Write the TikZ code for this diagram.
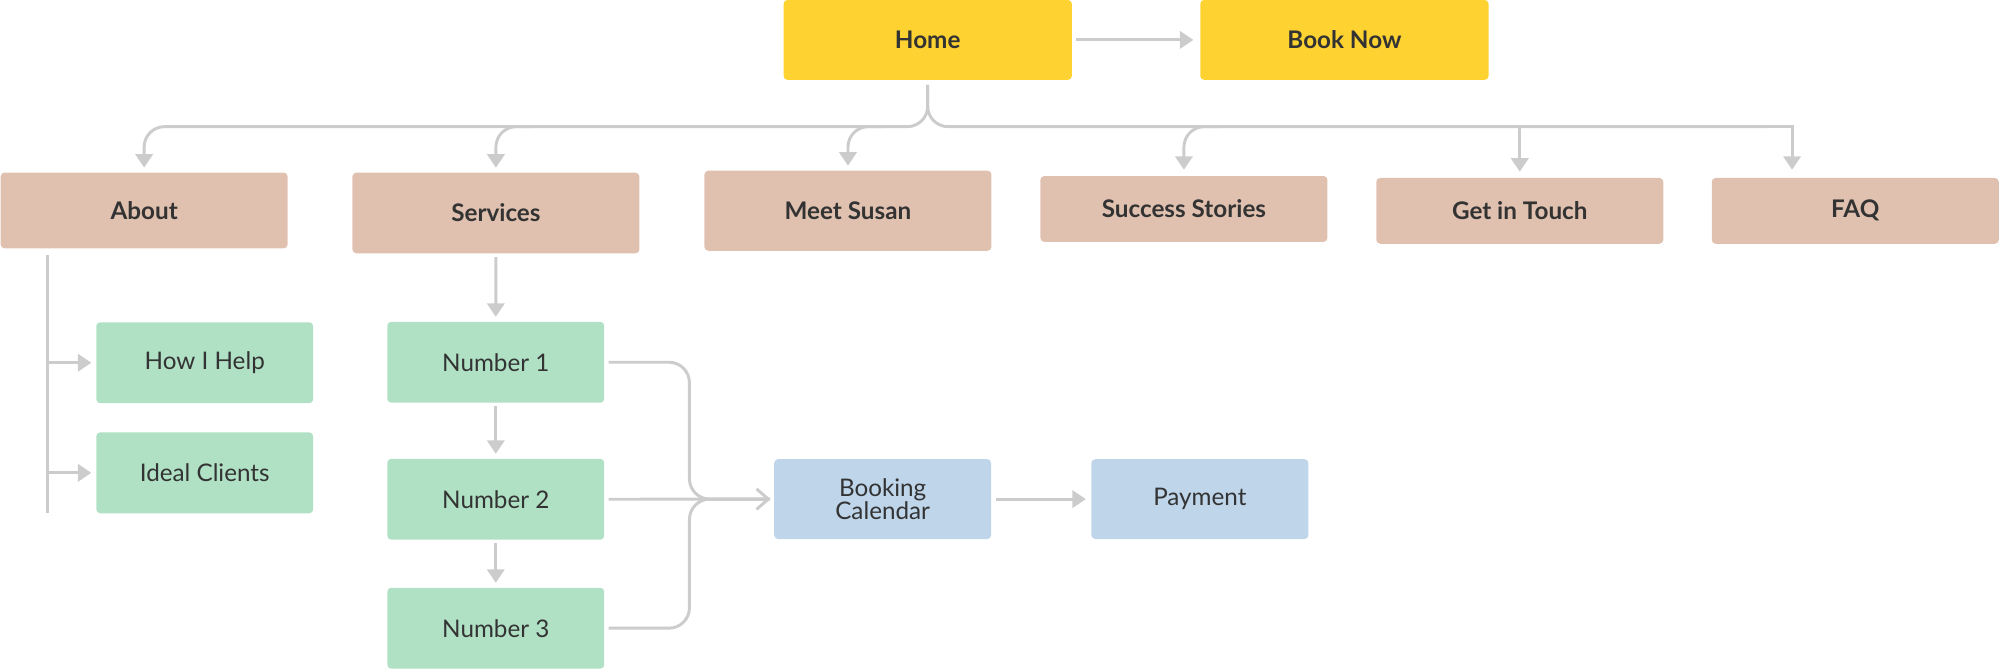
\documentclass[tikz,border=0pt]{standalone}
\usepackage{fontspec}
\setmainfont{Lato}
\usetikzlibrary{arrows.meta,calc}
\definecolor{cyel}{HTML}{FDD231}
\definecolor{ctan}{HTML}{E0C1AF}
\definecolor{cgreen}{HTML}{B0E1C5}
\definecolor{cblue}{HTML}{BED5EA}
\definecolor{cline}{HTML}{CCCCCC}
\definecolor{ctext}{HTML}{333333}
\begin{document}
\begin{tikzpicture}[x=0.5pt,y={(0pt,-0.5pt)},
  box/.style={rectangle, rounded corners=1.5pt, inner sep=0pt, text=ctext, align=center,
    font=\fontsize{9.5}{9.2}\selectfont},
  ybox/.style={box, fill=cyel, minimum width=113pt, minimum height=31.3pt,
    font=\bfseries\fontsize{9.5}{9.2}\selectfont},
  tbox/.style={box, fill=ctan, minimum width=112.5pt,
    font=\bfseries\fontsize{9.5}{9.2}\selectfont},
  gbox/.style={box, fill=cgreen, minimum width=85pt, minimum height=31.7pt},
  bbox/.style={box, fill=cblue, minimum width=85pt, minimum height=31.3pt},
  conn/.style={draw=cline, line width=1.15pt},
  arr/.style={conn, -{Triangle[width=6.8pt,length=5.3pt]}},
  barb/.style={conn, -{Straight Barb[width=8pt,length=4.6pt,line width=1.15pt]}},
]
\useasboundingbox (0,0) rectangle (1568,524.5);

% top
\node[ybox] (home) at (727.3,31.3) {Home};
\node[ybox] (book) at (1054,31.3) {Book Now};

% second level
\node[tbox, minimum height=29.7pt] (about) at (113,165) {About};
\node[tbox, minimum height=31.6pt] (services) at (388.8,167) {Services};
\node[tbox, minimum height=31.4pt] (meet) at (664.8,165.2) {Meet Susan};
\node[tbox, minimum height=25.8pt] (success) at (928.2,163.8) {Success Stories};
\node[tbox, minimum height=25.8pt] (touch) at (1191.5,165.3) {Get in Touch};
\node[tbox, minimum height=25.8pt] (faq) at (1454.5,165.3) {FAQ};

% third level
\node[gbox] (howi) at (160.5,284.4) {How I Help};
\node[gbox] (ideal) at (160.5,370.7) {Ideal Clients};
\node[gbox] (n1) at (388.7,284) {Number 1};
\node[gbox] (n2) at (388.7,391.4) {Number 2};
\node[gbox] (n3) at (388.7,492.5) {Number 3};
\node[bbox] (cal) at (692,391.3) {Booking\\Calendar};
\node[bbox] (pay) at (940.7,391.3) {Payment};

% bus coordinates
\coordinate (bus) at (727.3,99.3);
\coordinate (abus) at (37.5,200);
\coordinate (mx) at (540.5,391.3);
\coordinate (faqin) at ($(faq.north)+(-49.5,-6)$);

% Home -> Book Now
\draw[arr] ($(home.east)+(3,0)$) -- ($(book.west)+(-5,0)$);

% Home tree
\draw[arr, rounded corners=8pt] ($(home.south)+(0,3.5)$) -- (bus) -- (about.north |- bus) -- ($(about.north)+(0,-3.5)$);
\draw[conn, rounded corners=8pt] ($(home.south)+(0,3.5)$) -- (bus) -- ($(faqin |- bus)+(-20,0)$);
\draw[arr] ($(faqin |- bus)+(-21,0)$) -- (faqin |- bus) -- (faqin);
\draw[arr, rounded corners=8pt] ($(services.north |- bus)+(30,0)$) -- (services.north |- bus) -- ($(services.north)+(0,-3.5)$);
\draw[arr, rounded corners=8pt] ($(meet.north |- bus)+(30,0)$) -- (meet.north |- bus) -- ($(meet.north)+(0,-3.5)$);
\draw[arr, rounded corners=8pt] ($(success.north |- bus)+(30,0)$) -- (success.north |- bus) -- ($(success.north)+(0,-4.5)$);
\draw[arr] (touch.north |- bus) -- ($(touch.north)+(0,-4.5)$);

% About children
\draw[conn] (abus) -- (abus |- {(0,402.5)});
\draw[arr] (abus |- howi.west) -- ($(howi.west)+(-3.5,0)$);
\draw[arr] (abus |- ideal.west) -- ($(ideal.west)+(-3.5,0)$);

% Services chain
\draw[arr] ($(services.south)+(0,2.5)$) -- ($(n1.north)+(0,-3.5)$);
\draw[arr] ($(n1.south)+(0,2.5)$) -- ($(n2.north)+(0,-3.5)$);
\draw[arr] ($(n2.south)+(0,2.5)$) -- ($(n3.north)+(0,-3.5)$);

% merge into Booking Calendar
\draw[conn, rounded corners=8pt] ($(n1.east)+(3,0)$) -- (mx |- n1.east) -- (mx) -- ($(cal.west)+(-3,0)$);
\draw[conn, rounded corners=8pt] ($(n3.east)+(3,0)$) -- (mx |- n3.east) -- (mx) -- ($(cal.west)+(-3,0)$);
\draw[barb] ($(n2.east)+(3,0)$) -- ($(cal.west)+(-2.5,0)$);

% Booking -> Payment
\draw[arr] ($(cal.east)+(3.5,0)$) -- ($(pay.west)+(-4,0)$);
\end{tikzpicture}
\end{document}
